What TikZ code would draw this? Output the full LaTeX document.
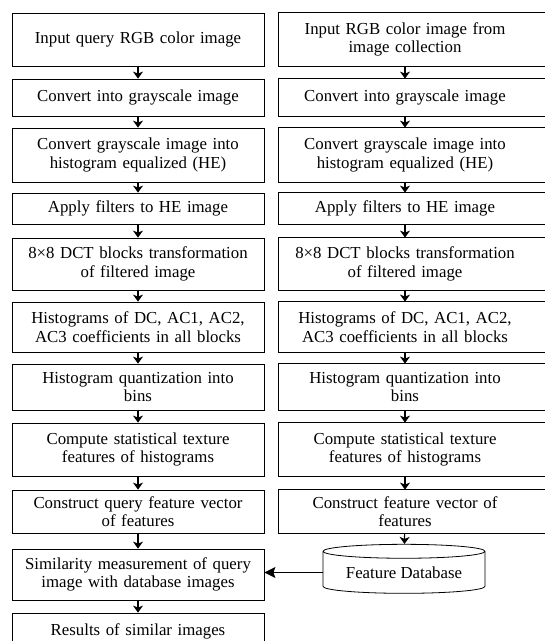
\documentclass[tikz,border=0pt]{standalone}
\usepackage{fontspec}
\setmainfont{Liberation Serif}
\usetikzlibrary{arrows.meta,shapes.geometric}

\tikzset{
  box/.style={draw, line width=0.8pt, text width=244pt, align=center, inner sep=0pt,
    minimum width=252pt, font=\fontsize{16.8}{18.5}\selectfont},
  rbox/.style={box, draw=none},
  flow/.style={-{Stealth[length=7pt,width=10pt,inset=2pt]}, line width=1.2pt},
  feed/.style={-{Stealth[length=11pt,width=11pt,inset=2pt]}, line width=1.3pt}
}

\begin{document}
\begin{tikzpicture}[x=1pt, y=-1pt]
    \useasboundingbox (0,0) rectangle (545,641);

    % query image
    \node[box, minimum height=53pt] (L1) at (138,39.5) {Input query RGB color image};
    \node[box, minimum height=37pt] (L2) at (138,97.5) {Convert into grayscale image};
    \node[box, minimum height=54pt] (L3) at (138,155) {Convert grayscale image into\\histogram equalized (HE)};
    \node[box, minimum height=31pt] (L4) at (138,208.5) {Apply filters to HE image};
    \node[box, minimum height=52pt] (L5) at (138,264) {8×8 DCT blocks transformation\\of filtered image};
    \node[box, minimum height=50pt] (L6) at (138,327) {Histograms of DC, AC1, AC2,\\AC3 coefficients in all blocks};
    \node[box, minimum height=46pt] (L7) at (138,387) {Histogram quantization into\\bins};
    \node[box, minimum height=53pt] (L8) at (138,449.5) {Compute statistical texture\\features of histograms};
    \node[box, minimum height=43pt] (L9) at (138,511.5) {Construct query feature vector\\of features};
    \node[box, minimum height=51pt] (L10) at (138,574.5) {Similarity measurement of query\\image with database images};
    \node[box, minimum height=37pt] (L11) at (138,631.5) {Results of similar images};

    % image collection
    \node[rbox, minimum height=53pt] (R1) at (405,39.5) {Input RGB color image from\\image collection};
    \node[rbox, minimum height=37pt] (R2) at (405,97.5) {Convert into grayscale image};
    \node[rbox, minimum height=54pt] (R3) at (405,155) {Convert grayscale image into\\histogram equalized (HE)};
    \node[rbox, minimum height=31pt] (R4) at (405,208.5) {Apply filters to HE image};
    \node[rbox, minimum height=52pt] (R5) at (405,264) {8×8 DCT blocks transformation\\of filtered image};
    \node[rbox, minimum height=50pt] (R6) at (405,327) {Histograms of DC, AC1, AC2,\\AC3 coefficients in all blocks};
    \node[rbox, minimum height=46pt] (R7) at (405,387) {Histogram quantization into\\bins};
    \node[rbox, minimum height=53pt] (R8) at (405,449.5) {Compute statistical texture\\features of histograms};
    \node[rbox, minimum height=43pt] (R9) at (405,511.5) {Construct feature vector of\\features};
    \foreach \i in {1,...,9}
        \draw[line width=0.8pt] (R\i.north west) rectangle ([xshift=20pt]R\i.south east);

    \node[draw, line width=0.8pt, cylinder, shape border rotate=90, aspect=0.12,
        minimum width=162pt, minimum height=49pt, inner sep=0pt,
        font=\fontsize{16.8}{18.5}\selectfont] (db) at (404,572.5) {Feature Database};

    \draw[flow] (L1) -- (L2);
    \draw[flow] (L2) -- (L3);
    \draw[flow] (L3) -- (L4);
    \draw[flow] (L4) -- (L5);
    \draw[flow] (L5) -- (L6);
    \draw[flow] (L6) -- (L7);
    \draw[flow] (L7) -- (L8);
    \draw[flow] (L8) -- (L9);
    \draw[flow] (L9) -- (L10);
    \draw[flow] (L10) -- (L11);

    \draw[flow] (R1) -- (R2);
    \draw[flow] (R2) -- (R3);
    \draw[flow] (R3) -- (R4);
    \draw[flow] (R4) -- (R5);
    \draw[flow] (R5) -- (R6);
    \draw[flow] (R6) -- (R7);
    \draw[flow] (R7) -- (R8);
    \draw[flow] (R8) -- (R9);
    \draw[flow] (R9) -- (db);

    \draw[feed] (db.west) -- (db.west -| L10.east);
\end{tikzpicture}
\end{document}
